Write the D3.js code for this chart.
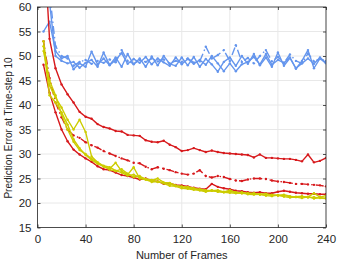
<!DOCTYPE html>
<html>
<head>
<meta charset="utf-8">
<script src="https://cdn.jsdelivr.net/npm/d3@7"></script>
<style>
  body { margin: 0; background: #fff; }
  svg { display: block; font-family: "Liberation Sans", Arial, sans-serif; }
</style>
</head>
<body>
<svg id="chart" width="339" height="263"></svg>
<script>

// Frames (x values)
const frames = [5,10,15,20,25,30,35,40,45,50,55,60,65,70,75,80,85,90,95,100,105,110,115,120,
    125,130,135,140,145,150,155,160,165,170,175,180,185,190,195,200,205,210,215,220,225,230,235,240];

// Blue group
const blueA = [55,57,51,49.5,50.0,47.3,48.5,47.8,50.9,48.3,49.5,48.1,49.2,50.6,48.4,49.4,48.6,49.8,48.3,49.5,48.7,48.0,49.7,48.3,
    49.4,48.4,49.2,48.2,50.0,48.5,46.9,48.5,46.9,48.3,48.8,49.8,48.3,50.4,48.2,49.2,48.6,49.7,47.5,48.5,49.5,48.4,49.7,48.6];
const blueB = [72,61,50,49,48.5,48.8,47.6,48.6,49.2,47.8,50.7,48.2,49.7,47.8,50.4,48.3,49.5,47.8,49.9,48.1,50.0,48.4,48.0,49.7,
    48.1,49.8,47.8,49.4,48.3,46.8,48.8,49.7,48.0,50.0,48.4,50.4,48.1,49.7,47.8,50.7,48.0,49.6,47.4,49.0,51.2,47.5,49.5,48.5];
const blueC = [75,63,52,50,49.5,48,48.8,49.2,48.4,49.0,48.6,49.3,48.7,51.2,49.0,48.4,49.2,48.8,49.5,48.9,49.3,48.5,49.0,48.8,
    49.5,48.7,48.9,51.9,49.5,50.2,51.2,49.0,52.2,48.8,49.6,48.5,50.0,51.2,48.9,49.8,48.6,50.3,49.0,48.5,50.5,48.9,49.4,49.0];

// Red group
const redA = [75,53.5,47.5,44.2,42.2,40.5,38.6,37.6,37.2,36.1,35.5,35.2,34.7,34.6,33.9,33.8,33.7,32.8,32.5,32.4,32.7,31.9,31.4,30.6,
    30.8,31.2,30.8,30.4,30.7,30.4,30.2,30.1,30.0,29.9,29.8,29.3,29.9,29.2,29.2,29.1,29.0,29.0,28.8,28.5,29.9,28.3,28.6,29.2];
const redB = [53,45.5,40.5,37.5,35.0,33.8,33.3,32.4,31.8,31.3,30.6,30.1,29.6,29.1,28.7,28.2,28.1,27.4,26.9,27.3,27.0,26.7,26.3,26.0,
    25.8,26.0,26.7,25.5,25.2,25.5,25.3,24.9,24.6,24.5,24.8,25.0,25.0,24.9,24.6,24.4,24.3,24.1,23.9,23.9,23.8,23.7,23.6,23.4];
const redC = [48.2,42.5,38.5,35.0,32.6,30.9,29.9,29.1,28.4,27.5,26.9,26.7,26.2,25.7,25.5,25.2,24.8,25.0,24.5,24.4,23.9,24.0,23.7,23.6,
    23.4,23.1,22.9,22.8,23.9,23.3,23.0,22.8,22.5,22.4,22.2,22.1,22.2,22.0,22.0,22.3,22.5,22.3,22.1,22.0,21.9,21.9,21.8,21.8];

// Yellow group
const yellowA = [53,44,41.5,39.5,37.0,35.0,37.0,34.5,29.5,28.3,27.4,27.0,28.2,26.5,25.8,27.3,25.0,24.8,24.6,25.0,24.2,24.1,23.6,23.3,
    23.3,23.0,22.6,22.5,22.5,22.6,22.2,22.6,22.1,22.0,22.0,21.9,21.8,21.9,21.6,21.6,21.7,21.4,21.2,21.3,21.2,22.0,21.2,21.5];
const yellowB = [52,42,40.5,38.5,36.0,33.0,31.2,29.8,28.8,28.0,27.5,26.8,26.5,26.9,26.0,25.3,25.5,24.8,24.3,24.4,24.0,23.5,23.4,23.0,
    22.9,22.7,22.6,22.3,22.6,22.3,22.2,22.1,22.0,22.2,21.8,21.7,21.8,21.5,21.4,21.6,21.3,21.1,21.2,21.0,21.3,20.9,21.1,21.0];
const yellowC = [51,45,42,38.0,35.0,32.5,30.8,30.0,29.0,28.3,27.6,27.3,26.6,26.2,25.6,25.8,25.2,24.9,24.7,24.3,24.1,23.8,23.5,23.4,
    23.1,22.9,22.8,22.6,22.5,22.4,22.3,22.4,22.2,22.0,21.9,22.0,21.7,21.6,21.7,21.5,21.5,21.3,21.3,21.4,21.1,21.2,21.0,20.9];

const xTicks = [0, 40, 80, 120, 160, 200, 240];
const yTicks = [15, 20, 25, 30, 35, 40, 45, 50, 55, 60];

const dashDot = "8,3,1.5,3";
const series = [
    { values: blueA, colour: "#6495ed", dash: null },
    { values: blueB, colour: "#6495ed", dash: null },
    { values: blueC, colour: "#6495ed", dash: dashDot },
    { values: redA, colour: "#d7191c", dash: null },
    { values: redB, colour: "#d7191c", dash: dashDot },
    { values: redC, colour: "#d7191c", dash: null },
    { values: yellowA, colour: "#cccc00", dash: null },
    { values: yellowB, colour: "#cccc00", dash: null },
    { values: yellowC, colour: "#cccc00", dash: null }
];

// Dimensions
const margin = { top: 7, right: 13, bottom: 35.5, left: 37.5 },
    width = 339 - margin.left - margin.right,
    height = 263 - margin.top - margin.bottom;

const svg = d3.select("#chart");
const g = svg.append("g").attr("transform", `translate(${margin.left},${margin.top})`);

const x = d3.scaleLinear().domain([0, 240]).range([0, width]);
const y = d3.scaleLinear().domain([15, 60]).range([height, 0]);

// Grid
g.append("g").selectAll("line").data(xTicks).join("line")
    .attr("x1", d => x(d)).attr("x2", d => x(d))
    .attr("y1", 0).attr("y2", height)
    .attr("stroke", "#e8e8e8").attr("stroke-width", 1);
g.append("g").selectAll("line").data(yTicks).join("line")
    .attr("y1", d => y(d)).attr("y2", d => y(d))
    .attr("x1", 0).attr("x2", width)
    .attr("stroke", "#e8e8e8").attr("stroke-width", 1);

// Clip
svg.append("defs").append("clipPath").attr("id", "plotClip")
    .append("rect").attr("width", width).attr("height", height);

const plot = g.append("g").attr("clip-path", "url(#plotClip)");

const line = d3.line()
    .x((d, i) => x(frames[i]))
    .y(d => y(d));

series.forEach(s => {
    plot.append("path")
        .datum(s.values)
        .attr("fill", "none")
        .attr("stroke", s.colour)
        .attr("stroke-width", 1.4)
        .attr("stroke-linejoin", "round")
        .attr("stroke-dasharray", s.dash)
        .attr("d", line);
    plot.append("g").selectAll("circle").data(s.values).join("circle")
        .attr("cx", (d, i) => x(frames[i]))
        .attr("cy", d => y(d))
        .attr("r", 1.2)
        .attr("fill", s.colour);
});

// Axes
const axisColour = "#262626";
const xAxis = g.append("g").attr("transform", `translate(0,${height})`)
    .call(d3.axisBottom(x).tickValues(xTicks).tickSize(-3).tickPadding(7));
const yAxis = g.append("g")
    .call(d3.axisLeft(y).tickValues(yTicks).tickSize(-3).tickPadding(6));
const xTop = g.append("g")
    .call(d3.axisTop(x).tickValues(xTicks).tickSize(-3).tickFormat(""));
const yRight = g.append("g").attr("transform", `translate(${width},0)`)
    .call(d3.axisRight(y).tickValues(yTicks).tickSize(-3).tickFormat(""));

[xAxis, yAxis, xTop, yRight].forEach(a => {
    a.selectAll("path, line").attr("stroke", axisColour).attr("stroke-width", 0.8);
    a.selectAll("text").attr("fill", axisColour).style("font-size", "11.5px");
    a.select(".domain").attr("d", null);
});

// Box
g.append("rect")
    .attr("width", width).attr("height", height)
    .attr("fill", "none").attr("stroke", axisColour).attr("stroke-width", 0.8);

// Axis labels
svg.append("text")
    .attr("x", margin.left + width / 2)
    .attr("y", 259)
    .attr("text-anchor", "middle")
    .attr("fill", axisColour)
    .style("font-size", "11px")
    .text("Number of Frames");
svg.append("text")
    .attr("transform", `translate(11.5,128) rotate(-90)`)
    .attr("text-anchor", "middle")
    .attr("fill", axisColour)
    .style("font-size", "10px")
    .text("Prediction Error at Time-step 10");

</script>
</body>
</html>
